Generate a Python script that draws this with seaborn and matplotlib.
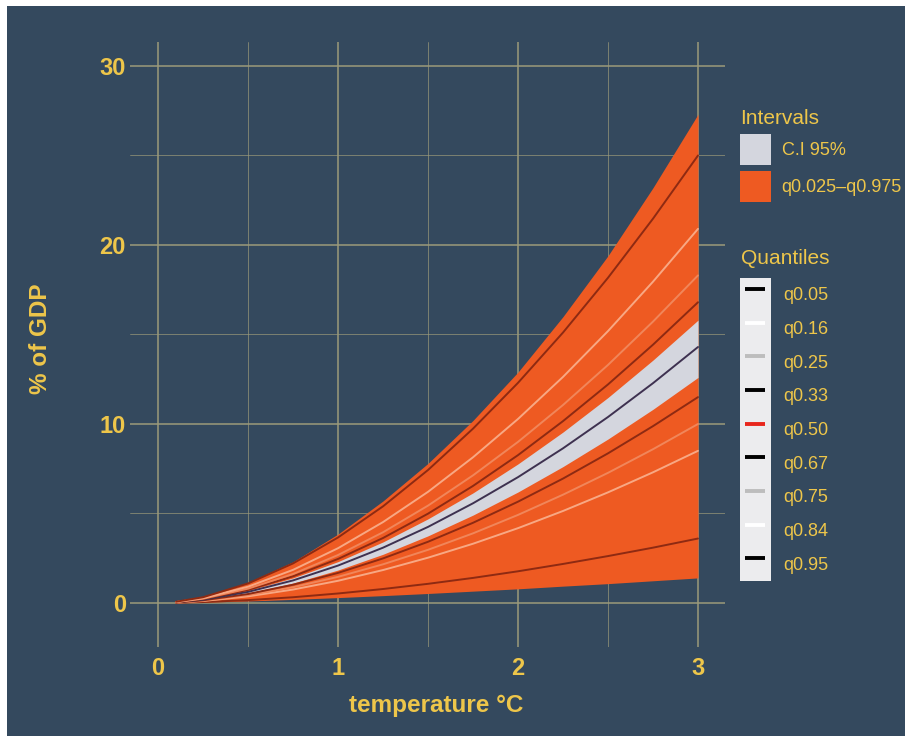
import matplotlib
matplotlib.use('Agg')
import matplotlib.pyplot as plt
from matplotlib.lines import Line2D
from matplotlib.patches import Patch, Rectangle
from matplotlib.legend_handler import HandlerTuple
from matplotlib.ticker import MultipleLocator
import pandas as pd
import seaborn as sns

# values (% of GDP by warming level)
temperature = [0.1, 0.25, 0.5, 0.75, 1.0, 1.25, 1.5, 1.75, 2.0, 2.25, 2.5, 2.75, 3.0]

q025 = [0.01, 0.04, 0.11, 0.20, 0.30, 0.41, 0.53, 0.66, 0.79, 0.94, 1.08, 1.24, 1.40]
q975 = [0.07, 0.35, 1.15, 2.30, 3.85, 5.70, 7.80, 10.20, 12.90, 16.00, 19.40, 23.20, 27.30]
ci_low = [0.03, 0.16, 0.55, 1.11, 1.84, 2.72, 3.75, 4.91, 6.20, 7.62, 9.16, 10.82, 12.60]
ci_high = [0.04, 0.20, 0.69, 1.40, 2.31, 3.41, 4.70, 6.15, 7.77, 9.55, 11.48, 13.57, 15.80]

q05 = [0.01, 0.05, 0.16, 0.32, 0.53, 0.78, 1.07, 1.40, 1.77, 2.18, 2.62, 3.09, 3.60]
q16 = [0.02, 0.11, 0.37, 0.75, 1.24, 1.84, 2.53, 3.31, 4.18, 5.14, 6.18, 7.30, 8.50]
q25 = [0.03, 0.13, 0.44, 0.88, 1.46, 2.16, 2.97, 3.89, 4.92, 6.05, 7.27, 8.59, 10.00]
q33 = [0.03, 0.15, 0.50, 1.02, 1.68, 2.49, 3.42, 4.48, 5.66, 6.95, 8.36, 9.88, 11.50]
q50 = [0.04, 0.18, 0.62, 1.26, 2.09, 3.09, 4.25, 5.57, 7.03, 8.64, 10.39, 12.28, 14.30]
q67 = [0.04, 0.22, 0.73, 1.49, 2.46, 3.63, 4.99, 6.54, 8.26, 10.16, 12.21, 14.43, 16.80]
q75 = [0.05, 0.24, 0.80, 1.62, 2.68, 3.95, 5.44, 7.13, 9.00, 11.06, 13.30, 15.72, 18.30]
q84 = [0.05, 0.27, 0.91, 1.85, 3.06, 4.52, 6.21, 8.14, 10.28, 12.63, 15.19, 17.95, 20.90]
q95 = [0.07, 0.32, 1.09, 2.21, 3.66, 5.40, 7.43, 9.74, 12.30, 15.11, 18.17, 21.47, 25.00]

quantile_names = ['q0.05', 'q0.16', 'q0.25', 'q0.33', 'q0.50', 'q0.67', 'q0.75', 'q0.84', 'q0.95']
quantile_values = [q05, q16, q25, q33, q50, q67, q75, q84, q95]
interval_labels = ['C.I 95%', 'q0.025\u2013q0.975']

# styling
bg = '#34495e'
gold = '#eec64a'
orange = '#ee5a22'
ci_grey = '#d4d6de'
grid_col = '#9c9a7a'
legend_colors = ['black', 'white', '#bdbdbd', 'black', '#e8261c', 'black', '#bdbdbd', 'white', 'black']
# how the semi-transparent lines look over the orange band
line_colors = ['#8e2a12', '#f8a884', '#f1865a', '#8e2a12', '#3e3150',
               '#8e2a12', '#f1865a', '#f8a884', '#8e2a12']

sns.set_style('white')
plt.rcParams['font.family'] = ['Liberation Sans', 'DejaVu Sans']

fig = plt.figure(figsize=(9.1, 7.43), dpi=100, facecolor='white')
fig.add_artist(Rectangle((7 / 910, 7 / 743), 898 / 910, 730 / 743,
                         transform=fig.transFigure, facecolor=bg, edgecolor='none', zorder=-10))
ax = fig.add_axes([130 / 910, 1 - 647 / 743, 595 / 910, 605 / 743])
ax.set_facecolor(bg)

ax.fill_between(temperature, q025, q975, color=orange, lw=0, zorder=2)
ax.fill_between(temperature, ci_low, ci_high, color=ci_grey, lw=0, zorder=3)

long_df = pd.DataFrame({
    'temperature': temperature * len(quantile_names),
    'value': [v for series in quantile_values for v in series],
    'quantile': [name for name in quantile_names for _ in temperature],
})
sns.lineplot(data=long_df, x='temperature', y='value', hue='quantile',
             palette=dict(zip(quantile_names, line_colors)), hue_order=quantile_names,
             estimator=None, sort=False, linewidth=1.4, legend=False, ax=ax, zorder=4)

ax.set_xlim(-0.156, 3.15)
ax.set_ylim(-2.46, 31.34)
ax.xaxis.set_major_locator(MultipleLocator(1))
ax.xaxis.set_minor_locator(MultipleLocator(0.5))
ax.yaxis.set_major_locator(MultipleLocator(10))
ax.yaxis.set_minor_locator(MultipleLocator(5))
ax.grid(which='major', color=grid_col, lw=1.1, zorder=0)
ax.grid(which='minor', color=grid_col, lw=0.6, alpha=0.8, zorder=0)
ax.set_axisbelow(True)
for s in ax.spines.values():
    s.set_visible(False)
ax.tick_params(which='both', length=0, colors=gold, labelsize=17)
ax.tick_params(axis='x', pad=7)
ax.tick_params(axis='y', pad=3)
for lab in ax.get_xticklabels() + ax.get_yticklabels():
    lab.set_fontweight('bold')

ax.set_xlabel('temperature \u00b0C', color=gold, fontsize=17.5, fontweight='bold', va='center')
ax.set_ylabel('% of GDP', color=gold, fontsize=17.5, fontweight='bold', va='center')
ax.xaxis.set_label_coords(0.514, -0.096)
ax.yaxis.set_label_coords(-0.151, 0.509)

# legends
int_handles = [Patch(facecolor=ci_grey, edgecolor='none'), Patch(facecolor=orange, edgecolor='none')]
leg1 = fig.legend(int_handles, interval_labels, title='Intervals', loc='upper left',
                  bbox_to_anchor=(740 / 910, 1 - 109 / 743), frameon=False, fontsize=13,
                  title_fontsize=15, handlelength=1.7, handleheight=2.26, handletextpad=0.6,
                  labelspacing=0.33, borderpad=0, borderaxespad=0, alignment='left')

q_handles = [(Patch(facecolor='#ececee', edgecolor='none'),
              Line2D([], [], ls='none', marker='_', markersize=15, markeredgewidth=2.8, color=c))
             for c in legend_colors]
leg2 = fig.legend(q_handles, quantile_names, loc='upper left',
                  bbox_to_anchor=(740 / 910, 1 - 278 / 743), frameon=False, fontsize=13,
                  handlelength=1.7, handleheight=2.49, handletextpad=0.7, numpoints=1,
                  labelspacing=0.0, borderpad=0, borderaxespad=0,
                  handler_map={tuple: HandlerTuple(ndivide=1, pad=0)})
fig.text(741 / 910, 1 - 258 / 743, 'Quantiles', color=gold, fontsize=15, ha='left', va='center')
leg1.get_title().set_color(gold)
for leg in (leg1, leg2):
    for t in leg.get_texts():
        t.set_color(gold)

fig.savefig('out.png', dpi=100)
